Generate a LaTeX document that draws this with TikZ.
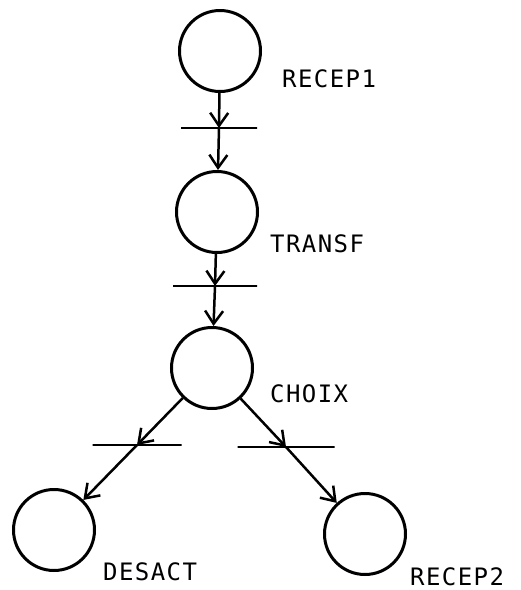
\documentclass[tikz,border=0pt]{standalone}
\usepackage{fontspec}
\newfontfamily\plotfont[LetterSpace=6]{DejaVu Sans Mono}
\usetikzlibrary{arrows.meta}

\begin{document}
\begin{tikzpicture}[
    x=1pt, y=-1pt,
    place/.style={circle, draw, line width=3pt, minimum size=81pt, inner sep=0pt},
    trans/.style={draw, line width=2.5pt, minimum height=0pt, inner sep=0pt, outer sep=0pt},
    tag/.style={anchor=west, inner sep=0pt, font=\plotfont\fontsize{24}{24}\selectfont},
    arc/.style={-{Straight Barb[length=13pt,width=18pt]}, line width=2.5pt}
]
\useasboundingbox (0,0) rectangle (521,590);

% Places
\node[place] (recep1) at (220,51) {};
\node[place] (transf) at (217,212) {};
\node[place] (choix) at (212,368) {};
\node[place] (desact) at (54,530) {};
\node[place] (recep2) at (365,534) {};

% Transitions
\node[trans, minimum width=76pt] (t1) at (219,128) {};
\node[trans, minimum width=84pt] (t2) at (215,286) {};
\node[trans, minimum width=89pt] (t3) at (137,445) {};
\node[trans, minimum width=97pt] (t4) at (286,447) {};

% Labels
\node[tag] (l1) at (282,79) {RECEP1};
\node[tag] (l2) at (270,244) {TRANSF};
\node[tag] (l3) at (270,394) {CHOIX};
\node[tag] (l4) at (103,572) {DESACT};
\node[tag] (l5) at (410,577) {RECEP2};

% Arcs
\draw[arc] (recep1) -- (t1);
\draw[arc] (t1) -- (transf);
\draw[arc] (transf) -- (t2);
\draw[arc] (t2) -- (choix);
\draw[arc] (choix) -- (t3);
\draw[arc] (t3) -- (desact);
\draw[arc] (choix) -- (t4);
\draw[arc] (t4) -- (recep2);

\end{tikzpicture}
\end{document}
